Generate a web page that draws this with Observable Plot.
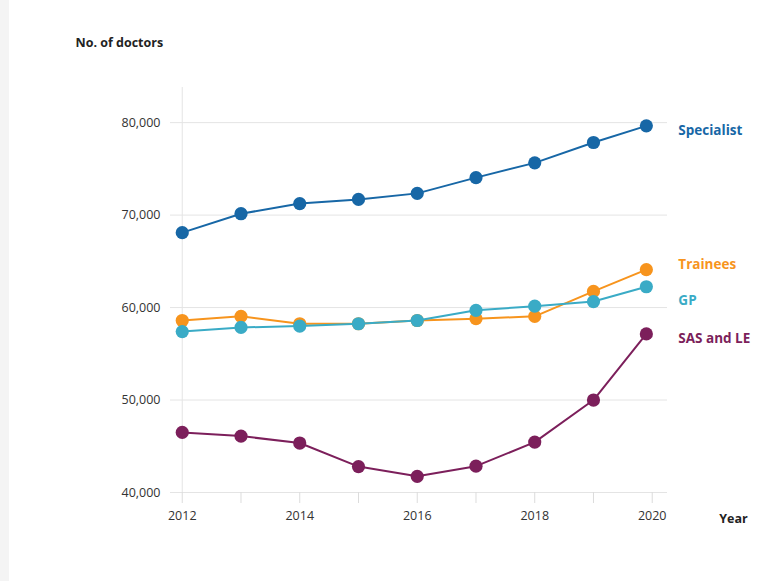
<!DOCTYPE html>
<html><head><meta charset="utf-8">
<script src="https://cdn.jsdelivr.net/npm/d3@7"></script>
<script src="https://cdn.jsdelivr.net/npm/@observablehq/plot@0.6"></script>
<style>
body{margin:0;background:#fff;}
#strip{position:absolute;left:0;top:0;width:9px;height:581px;background:#f4f4f4;}
#chart{position:absolute;left:0;top:0;}
</style></head><body><div id="strip"></div><div id="chart"></div>
<script>
const years = [2012, 2013, 2014, 2015, 2016, 2017, 2018, 2019, 2019.9];
const specialist = [68100, 70150, 71250, 71700, 72350, 74050, 75650, 77850, 79650];
const trainees = [58600, 59050, 58250, 58250, 58600, 58800, 59050, 61750, 64100];
const gp = [57400, 57850, 58000, 58250, 58600, 59700, 60150, 60650, 62250];
const sasLe = [46500, 46100, 45350, 42800, 41750, 42850, 45450, 50000, 57150];
const seriesNames = ["Specialist", "Trainees", "GP", "SAS and LE"];
const yTicks = [40000, 50000, 60000, 70000, 80000];
const xTicks = [2012, 2013, 2014, 2015, 2016, 2017, 2018, 2019, 2020];

const seriesValues = {"Specialist": specialist, "Trainees": trainees, "GP": gp, "SAS and LE": sasLe};
const colors = {"Specialist": "#1767a6", "Trainees": "#f7941d", "GP": "#3aabc6", "SAS and LE": "#7c1f5b"};
const labelDy = {"Specialist": 5, "Trainees": -5, "GP": 14, "SAS and LE": 5};
const drawOrder = ["Specialist", "Trainees", "GP", "SAS and LE"];

const rows = seriesNames.flatMap(s => years.map((yr, i) => ({series: s, year: yr, value: seriesValues[s][i]})));

const seriesMarks = drawOrder.flatMap(s => {
  const d = rows.filter(r => r.series === s);
  const last = d[d.length - 1];
  return [
    Plot.line(d, {x: "year", y: "value", stroke: colors[s], strokeWidth: 2}),
    Plot.dot(d, {x: "year", y: "value", r: 6.6, fill: colors[s]}),
    Plot.text([last], {x: "year", y: "value", text: () => s, fill: colors[s], textAnchor: "start",
      dx: 32, dy: labelDy[s], fontWeight: "bold", fontSize: 13.5})
  ];
});

const fmt = d3.format(",");
const chart = Plot.plot({
  width: 777, height: 581,
  marginLeft: 170, marginRight: 110, marginTop: 87, marginBottom: 89,
  x: {domain: [2011.8, 2020.26], label: null},
  y: {domain: [40000, 83800], label: null},
  style: {fontFamily: "'Open Sans', sans-serif", fontSize: "12.5px", color: "#333", background: "transparent"},
  marks: [
    Plot.gridY(yTicks, {stroke: "#e4e4e4", strokeOpacity: 1}),
    Plot.ruleX([2012], {stroke: "#e4e4e4"}),
    Plot.axisX(xTicks, {tickSize: 11, tickPadding: 8, stroke: "#dcdcdc", fill: "#333", label: null,
      tickFormat: d => d % 2 === 0 ? String(d) : ""}),
    Plot.axisY(yTicks, {tickSize: 0, tickPadding: 10, tickFormat: fmt, fill: "#333", label: null}),
    ...seriesMarks,
    Plot.text(["No. of doctors"], {frameAnchor: "top-left", dx: -95, dy: -49, textAnchor: "start",
      fontWeight: "bold", fontSize: 12.5, fill: "#222"}),
    Plot.text(["Year"], {frameAnchor: "bottom-right", dx: 66, dy: 30, textAnchor: "middle",
      fontWeight: "bold", fontSize: 12.5, fill: "#222"})
  ]
});
document.getElementById("chart").appendChild(chart);
</script></body></html>
